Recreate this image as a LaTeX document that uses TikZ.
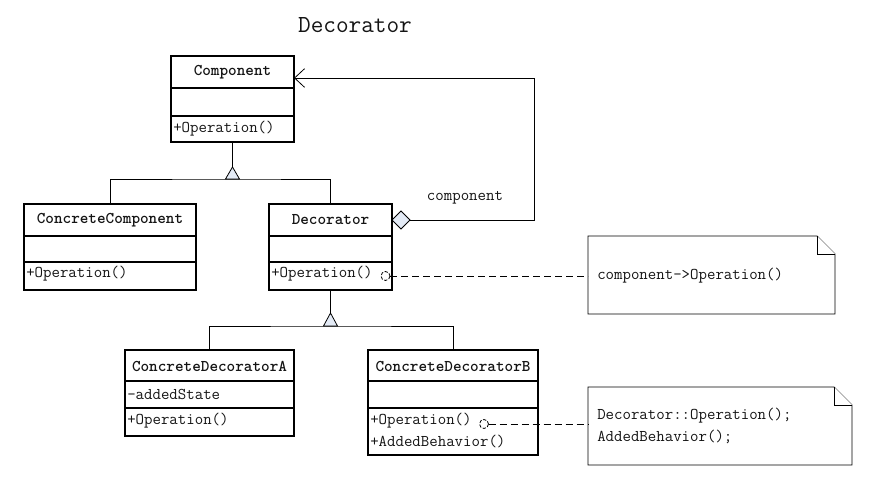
\documentclass[tikz,border=0pt]{standalone}
\usetikzlibrary{arrows.meta}
\definecolor{umlfill}{RGB}{228,235,246}
\definecolor{txt}{RGB}{20,20,20}
\tikzset{
  cls/.style={draw, line width=1pt, inner sep=0pt},
  divline/.style={line width=1pt},
  ttl/.style={font=\ttfamily\bfseries\fontsize{12.3}{14}\selectfont, text=txt, inner sep=0pt},
  mem/.style={font=\ttfamily\fontsize{12.3}{14}\selectfont, text=txt, inner sep=0pt, anchor=west},
  conn/.style={line width=0.6pt},
  notebox/.style={line width=0.6pt, fill=white},
  noteline/.style={line width=0.6pt, dash pattern=on 5.25pt off 3pt},
  anchorcirc/.style={line width=0.6pt, dash pattern=on 2.5pt off 1.2pt},
}
\begin{document}
\begin{tikzpicture}[x=0.75pt,y=-0.75pt]
\useasboundingbox[fill=white] (0,0) rectangle (876,478);

% title
\node[font=\ttfamily\fontsize{18.4}{20}\selectfont, text=txt, inner sep=0pt] (title) at (355,25) {Decorator};

% Component
\node[cls, minimum width=123*0.75pt, minimum height=86*0.75pt] (comp) at (232.5,99) {};
\draw[divline] (171,88) -- (294,88) (171,116) -- (294,116);
\node[ttl] (compT) at (232.5,72) {Component};
\node[mem] (compO) at (173,129) {+Operation()};

% ConcreteComponent
\node[cls, minimum width=172*0.75pt, minimum height=86*0.75pt] (cc) at (110,247) {};
\draw[divline] (24,236) -- (196,236) (24,262) -- (196,262);
\node[ttl] (ccT) at (110,220) {ConcreteComponent};
\node[mem] (ccO) at (26,274) {+Operation()};

% Decorator
\node[cls, minimum width=123*0.75pt, minimum height=86*0.75pt] (dec) at (330.5,247) {};
\draw[divline] (269,236) -- (392,236) (269,262) -- (392,262);
\node[ttl] (decT) at (330.5,220) {Decorator};
\node[mem] (decO) at (271,274) {+Operation()};

% ConcreteDecoratorA
\node[cls, minimum width=169*0.75pt, minimum height=86*0.75pt] (cda) at (209.5,393) {};
\draw[divline] (125,381) -- (294,381) (125,408) -- (294,408);
\node[ttl] (cdaT) at (209.5,366) {ConcreteDecoratorA};
\node[mem] (cdaS) at (127,394.5) {-addedState};
\node[mem] (cdaO) at (127,421) {+Operation()};

% ConcreteDecoratorB
\node[cls, minimum width=170*0.75pt, minimum height=105*0.75pt] (cdb) at (453,402.5) {};
\draw[divline] (368,381) -- (538,381) (368,408) -- (538,408);
\node[ttl] (cdbT) at (453,366) {ConcreteDecoratorB};
\node[mem] (cdbO) at (370,421) {+Operation()};
\node[mem] (cdbB) at (370,441) {+AddedBehavior()};

% generalization 1
\coordinate (t1) at (232.5,167);
\coordinate (t1b) at (232.5,179);
\draw[conn] (comp.south) -- (t1);
\draw[conn, fill=umlfill] (t1) -- (225.5,179) -- (239.5,179) -- cycle;
\draw[conn] (cc.north) |- (t1b) -| (dec.north);

% generalization 2
\coordinate (t2) at (330.5,313);
\coordinate (t2b) at (330.5,326);
\draw[conn] (dec.south) -- (t2);
\draw[conn, fill=umlfill] (t2) -- (323.5,326) -- (337.5,326) -- cycle;
\draw[conn] (cda.north) |- (t2b) -| (cdb.north);

% aggregation
\coordinate (dia) at (392,220);
\coordinate (aggEnd) at (294,78);
\draw[conn, fill=umlfill] (dia) -- (401,211) -- (410,220) -- (401,229) -- cycle;
\draw[conn, -{Straight Barb[length=7.5pt,width=14pt,line width=0.6pt]}] (410,220) -- (534,220) |- (aggEnd);
\node[font=\ttfamily\fontsize{12.3}{14}\selectfont, text=txt, inner sep=0pt] (aggL) at (465,198) {component};

% note 1
\draw[notebox] (588,236) -- (817,236) -- (835,254) -- (835,314) -- (588,314) -- cycle;
\draw[notebox] (817,236) -- (817,254) -- (835,254);
\node[mem] (n1) at (597,275.5) {component->Operation()};
\coordinate (n1w) at (588,276);
\coordinate (c1) at (385.5,276);
\draw[anchorcirc] (c1) circle[radius=4.5];
\draw[noteline] (390,276) -- (n1w);

% note 2
\draw[notebox] (588,387) -- (834,387) -- (852,405) -- (852,465) -- (588,465) -- cycle;
\draw[notebox] (834,387) -- (834,405) -- (852,405);
\node[mem] (n2a) at (597,416) {Decorator::Operation();};
\node[mem] (n2b) at (597,437) {AddedBehavior();};
\coordinate (n2w) at (588,424);
\coordinate (c2) at (484,424);
\draw[anchorcirc] (c2) circle[radius=4.5];
\draw[noteline] (488.5,424) -- (n2w);
\end{tikzpicture}
\end{document}
